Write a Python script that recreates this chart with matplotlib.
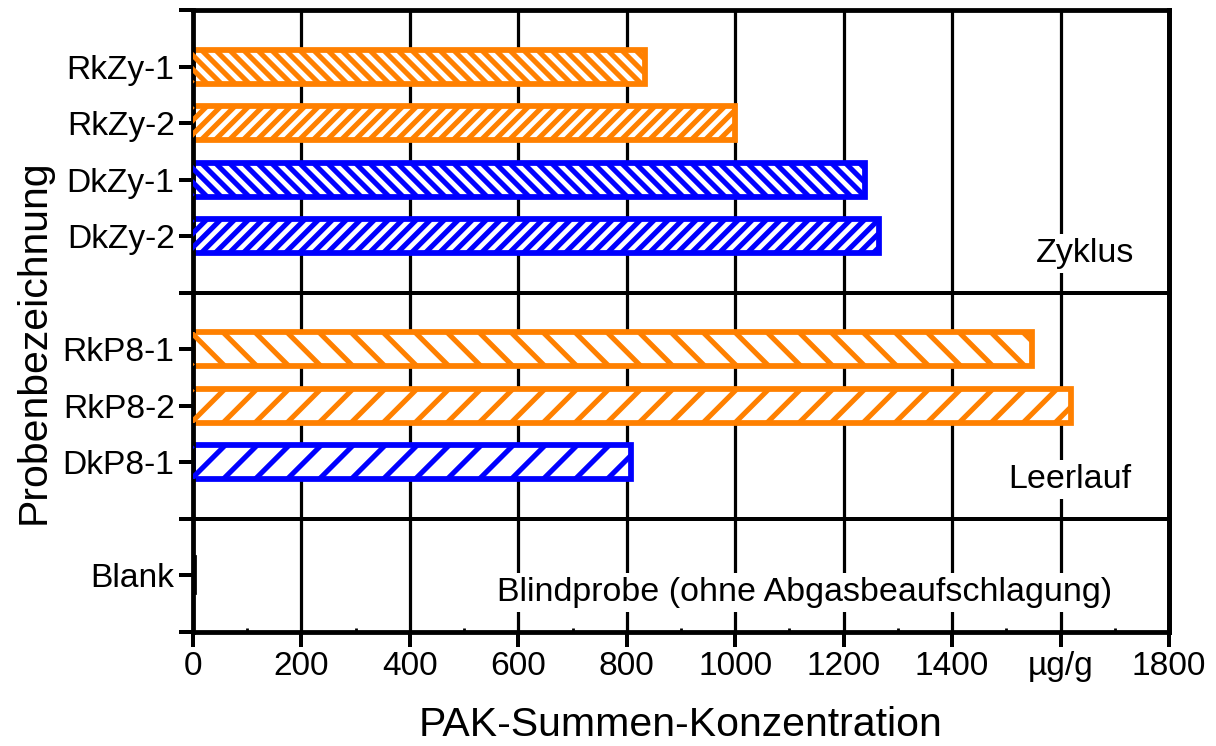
import numpy as np
import matplotlib
matplotlib.use("Agg")
import matplotlib.pyplot as plt
from matplotlib.ticker import MultipleLocator, FixedLocator, NullFormatter
from matplotlib.collections import LineCollection
from matplotlib.transforms import IdentityTransform

# ---- data ----
samples = ["RkZy-1", "RkZy-2", "DkZy-1", "DkZy-2", "RkP8-1", "RkP8-2", "DkP8-1", "Blank"]
values = [833, 1000, 1240, 1265, 1548, 1620, 807, 1.5]
groups = ["Zyklus", "Zyklus", "Zyklus", "Zyklus", "Leerlauf", "Leerlauf", "Leerlauf", "Blank"]
group_names = ["Zyklus", "Leerlauf", "Blank"]
group_texts = ["Zyklus", "Leerlauf", "Blindprobe (ohne Abgasbeaufschlagung)"]
xtick_values = [0, 200, 400, 600, 800, 1000, 1200, 1400, 1600, 1800]
xtick_labels = ["0", "200", "400", "600", "800", "1000", "1200", "1400", "µg/g", "1800"]
xlabel = "PAK-Summen-Konzentration"
ylabel = "Probenbezeichnung"

# ---- styles ----
ORANGE = "#FF8000"
BLUE = "#0000FF"
colors = [ORANGE, ORANGE, BLUE, BLUE, ORANGE, ORANGE, BLUE, "black"]
hatch_dir = ["\\", "/", "\\", "/", "\\", "/", "/", ""]
hatch_spacing_px = [14, 14, 14, 14, 32, 32, 32, 0]
text_x = [1645, 1617, 1127]

DPI = 576  # 8 px per point
plt.rcParams["font.family"] = ["Liberation Sans", "DejaVu Sans"]

fig = plt.figure(figsize=(1216 / DPI, 746 / DPI), dpi=DPI)
ax = fig.add_axes([193 / 1216, 1 - 632 / 746, (1169 - 193) / 1216, (632 - 10) / 746])

# y layout: each group occupies (n+1) units, separator below it
counts = [groups.count(g) for g in group_names]
total = sum(c + 1 for c in counts)
ypos = []
separators = []
group_bottoms = []
top = total
for g, c in zip(group_names, counts):
    for k in range(c):
        ypos.append(top - 1 - k)
    bottom = top - (c + 1)
    group_bottoms.append(bottom)
    if bottom > 0:
        separators.append(bottom)
    top = bottom

ax.set_xlim(0, 1800)
ax.set_ylim(0, total)

bars = []
for y, v, col in zip(ypos, values, colors):
    b = ax.barh(y, v, height=0.6, facecolor="white", edgecolor=col,
                linewidth=0.72, zorder=3)[0]
    bars.append(b)

# manual hatching in pixel space (clipped to each bar)
for b, d, s, col in zip(bars, hatch_dir, hatch_spacing_px, colors):
    if not d:
        continue
    bb = b.get_window_extent()
    x0, x1, y0, y1 = bb.x0, bb.x1, bb.y0, bb.y1
    H = y1 - y0
    segs = []
    for c in np.arange(x0 - H - s, x1 + s, s):
        if d == "/":
            segs.append([(c, y0), (c + H, y1)])
        else:
            segs.append([(c, y1), (c + H, y0)])
    lc = LineCollection(segs, colors=col, linewidths=0.64, transform=IdentityTransform(),
                        zorder=3.5)
    lc.set_clip_path(b)
    fig.add_artist(lc)

# grid
for xv in xtick_values[1:-1]:
    ax.axvline(xv, color="black", linewidth=0.4, zorder=1)
for s in separators:
    ax.axhline(s, color="black", linewidth=0.5, zorder=2)

# group texts
for gt, gb, tx in zip(group_texts, group_bottoms, text_x):
    ax.text(tx, gb + 0.7, gt, fontsize=4.25, ha="center", va="center", zorder=4,
            bbox=dict(boxstyle="square,pad=0.12", facecolor="white", edgecolor="none"))

# ticks
ax.set_xticks(xtick_values)
ax.set_xticklabels(xtick_labels)
ax.xaxis.set_minor_locator(MultipleLocator(100))
ax.tick_params(axis="x", which="major", direction="out", length=1.9, width=0.5,
               labelsize=4.2, pad=0.5)
ax.tick_params(axis="x", which="minor", direction="in", length=0.5, width=0.35)

ax.yaxis.set_major_locator(FixedLocator(list(range(0, total + 1))))
ylabels_map = {y: s for y, s in zip(ypos, samples)}
ax.set_yticklabels([ylabels_map.get(i, "") for i in range(0, total + 1)])
ax.tick_params(axis="y", which="major", direction="out", length=1.8, width=0.5,
               labelsize=4.2, pad=0.5)

sec = ax.secondary_yaxis("right")
sec.yaxis.set_major_locator(MultipleLocator(0.5))
sec.yaxis.set_major_formatter(NullFormatter())
sec.tick_params(direction="out", length=0.3, width=0.35)
sec.spines["right"].set_linewidth(0.6)

for sp in ax.spines.values():
    sp.set_linewidth(0.6)
    sp.set_zorder(5)

ax.set_xlabel(xlabel, fontsize=5.13)
ax.xaxis.set_label_coords(0.5, -0.119)
ax.set_ylabel(ylabel, fontsize=5.13)
ax.yaxis.set_label_coords(-0.1434, 0.466)

fig.savefig("out.png", dpi=DPI)
